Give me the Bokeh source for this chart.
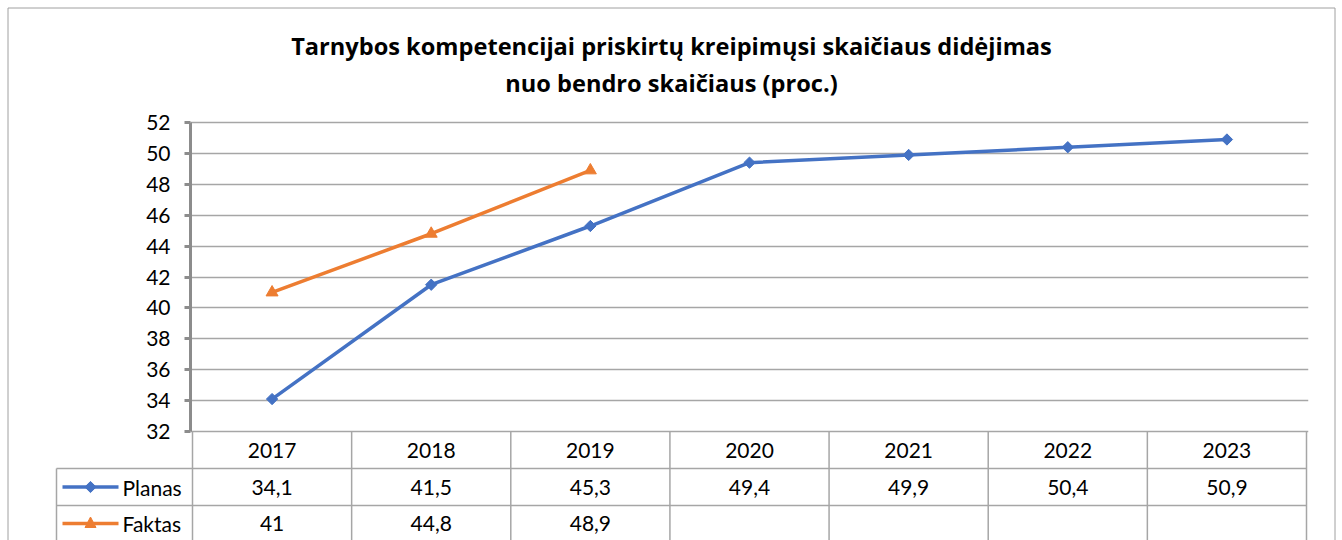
from bokeh.plotting import figure
from bokeh.models import Range1d, FixedTicker, ColumnDataSource
from bokeh.core.properties import value
from bokeh.embed import file_html
from bokeh.resources import INLINE

# ---------------- data ----------------
years = ["2017", "2018", "2019", "2020", "2021", "2022", "2023"]
planas = [34.1, 41.5, 45.3, 49.4, 49.9, 50.4, 50.9]
faktas = [41.0, 44.8, 48.9, None, None, None, None]
series_names = ["Planas", "Faktas"]
title_lines = ["Tarnybos kompetencijai priskirtų kreipimųsi skaičiaus didėjimas",
               "nuo bendro skaičiaus (proc.)"]
y_ticks = [32, 34, 36, 38, 40, 42, 44, 46, 48, 50, 52]

# ---------------- styling / layout (pixel positions) ----------------
BLUE = "#4472C4"
ORANGE = "#ED7D31"
GRID = "#a6a6a6"
AXIS = "#8c8c8c"
FONT = "Lato"
TITLE_FONT = "Open Sans"

W, H = 1342, 540
FR_L, FR_R = 190, 1308            # frame horizontal extent
COL0, COLN = 192, 1306            # table column boundaries
Y_TOP_PX, Y_BOT_PX = 122, 431     # pixel rows of the top / bottom tick
ROW1, ROW2 = 468, 505             # table row lines
LEG_L = 56
BOX_L, BOX_T, BOX_R = 7.5, 7.5, 1334.5

ncat = len(years)
cat_w = (COLN - COL0) / ncat
px_per_unit = (Y_BOT_PX - Y_TOP_PX) / (y_ticks[-1] - y_ticks[0])

x_range = Range1d(-0.5 - (COL0 - FR_L) / cat_w, ncat - 0.5 + (FR_R - COLN) / cat_w)
y_range = Range1d(y_ticks[0] - (H - Y_BOT_PX) / px_per_unit,
                  y_ticks[-1] + Y_TOP_PX / px_per_unit)

p = figure(width=W, height=H, x_range=x_range, y_range=y_range,
           x_axis_type=None, output_backend="svg", toolbar_location=None,
           min_border_left=FR_L, min_border_right=W - FR_R,
           min_border_top=0, min_border_bottom=0)
p.extra_x_ranges = {"px": Range1d(FR_L, FR_R)}
p.extra_y_ranges = {"px": Range1d(H, 0)}
p.outline_line_color = None
p.background_fill_color = "white"
p.border_fill_color = "white"
p.xgrid.visible = False

ticker = FixedTicker(ticks=y_ticks)
ax = p.yaxis[0]
ax.ticker = ticker
ax.bounds = (y_ticks[0], y_ticks[-1])
ax.axis_line_color = AXIS
ax.axis_line_width = 3
ax.major_tick_line_color = AXIS
ax.major_tick_line_width = 3
ax.major_tick_out = 6
ax.major_tick_in = 0
ax.minor_tick_out = 0
ax.minor_tick_in = 0
ax.major_label_text_font = FONT
ax.major_label_text_font_size = "21px"
ax.major_label_text_color = "black"
ax.major_label_standoff = 14
p.ygrid.ticker = ticker
p.ygrid.grid_line_color = GRID
p.ygrid.grid_line_width = 1.5

# ---------------- title ----------------
p.text(x=[(BOX_L + BOX_R) / 2] * 2, y=[45.5, 82], text=title_lines,
       x_range_name="px", y_range_name="px",
       text_font=value(TITLE_FONT), text_font_size="23.6px", text_font_style="bold",
       text_color="black", text_align="center", text_baseline="middle")

# ---------------- series ----------------
idx = list(range(ncat))
p.line(idx, planas, line_color=BLUE, line_width=3.5)
p.scatter(idx, planas, marker="square", angle=0.785398, size=8,
          fill_color=BLUE, line_color=BLUE)
fx = [i for i, v in zip(idx, faktas) if v is not None]
fy = [v for v in faktas if v is not None]
p.line(fx, fy, line_color=ORANGE, line_width=3.5)
p.scatter(fx, fy, marker="triangle", size=12, fill_color=ORANGE, line_color=ORANGE)

# ---------------- data table ----------------
HDR_Y = (Y_BOT_PX + ROW1) / 2
R1_Y = (ROW1 + ROW2) / 2
R2_Y = 523

p.segment(x0=[-0.5, -0.5], x1=[ncat - 0.5, ncat - 0.5], y0=[ROW1, ROW2], y1=[ROW1, ROW2],
          y_range_name="px", line_color=GRID, line_width=1.5)
bx = [i - 0.5 for i in range(ncat + 1)]
p.segment(x0=bx, x1=bx, y0=[Y_BOT_PX] * len(bx), y1=[H + 5] * len(bx),
          y_range_name="px", line_color=GRID, line_width=1.5)

def fmt(v):
    return "" if v is None else f"{v:g}".replace(".", ",")

tsrc = ColumnDataSource(dict(
    x=idx * 3,
    y=[HDR_Y] * ncat + [R1_Y] * ncat + [R2_Y] * ncat,
    t=years + [fmt(v) for v in planas] + [fmt(v) for v in faktas]))
p.text(x="x", y="y", text="t", source=tsrc, y_range_name="px",
       text_font=value(FONT), text_font_size="21px", text_color="black",
       text_align="center", text_baseline="middle")

# legend column + outer border (outside the frame: overlay level)
OV = dict(x_range_name="px", y_range_name="px", level="overlay")
p.multi_line(xs=[[LEG_L, COL0], [LEG_L, COL0], [LEG_L, LEG_L]],
             ys=[[ROW1, ROW1], [ROW2, ROW2], [ROW1, H + 5]],
             line_color=GRID, line_width=1.5, **OV)
p.multi_line(xs=[[BOX_L, BOX_L, BOX_R, BOX_R]], ys=[[H + 5, BOX_T, BOX_T, H + 5]],
             line_color="#a0a0a0", line_width=1, **OV)
leg_y = [R1_Y, R2_Y]
leg_col = [BLUE, ORANGE]
p.segment(x0=[62, 62], x1=[118, 118], y0=leg_y, y1=leg_y,
          line_color=leg_col, line_width=3.5, **OV)
MX, MR = 90, 5.6
p.patch(x=[MX, MX + MR, MX, MX - MR], y=[R1_Y - MR, R1_Y, R1_Y + MR, R1_Y],
        fill_color=BLUE, line_color=BLUE, **OV)
p.patch(x=[MX, MX + 5.5, MX - 5.5], y=[R2_Y - 6.5, R2_Y + 4, R2_Y + 4],
        fill_color=ORANGE, line_color=ORANGE, **OV)
p.text(x=[122, 122], y=leg_y, text=series_names,
       text_font=value(FONT), text_font_size="21px", text_color="black",
       text_align="left", text_baseline="middle", **OV)

open("out.html", "w").write(file_html(p, INLINE))
